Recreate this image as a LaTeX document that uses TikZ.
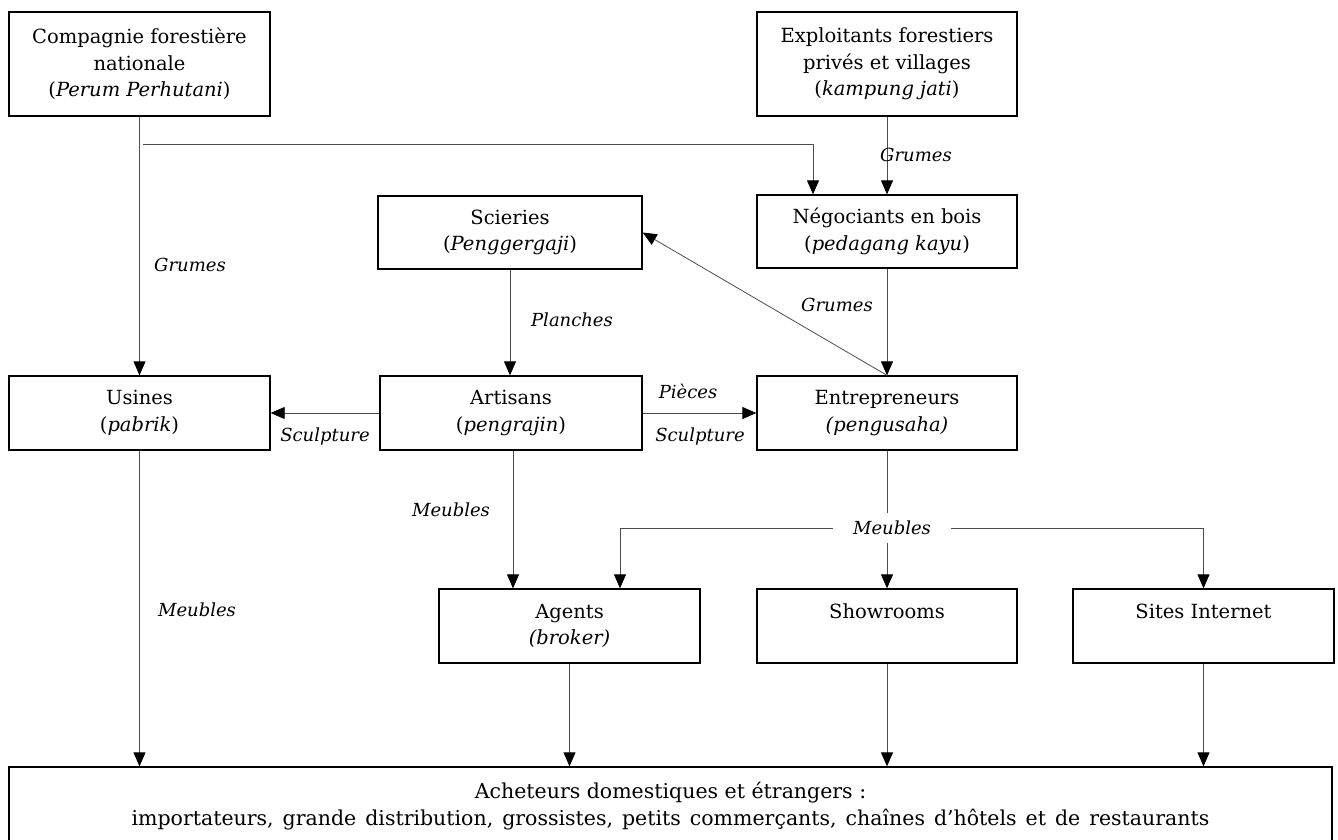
\documentclass[tikz,border=0pt]{standalone}
\usepackage{fontspec}
\setmainfont{DejaVu Serif}
\usetikzlibrary{arrows.meta,calc}
\begin{document}
\begin{tikzpicture}[x=1pt,y=-1pt,
  font=\fontsize{19.5}{26.5}\selectfont,
  box/.style={draw=black, line width=1.3pt, align=center, inner sep=0pt, anchor=center},
  conn/.style={draw=black!70, line width=0.8pt},
  arr/.style={conn, -{Triangle[length=14pt,width=12pt,color=black]}},
  lab/.style={font=\fontsize{18}{20}\selectfont\itshape, inner sep=1pt}
]
\useasboundingbox (0,0) rectangle (1338,840);
% boxes
\node[box, minimum width=261, minimum height=104] (comp) at (139.5,64) {Compagnie forestière\\nationale\\(\textit{Perum Perhutani})};
\node[box, minimum width=260, minimum height=104] (expl) at (887,64) {Exploitants forestiers\\privés et villages\\(\textit{kampung jati})};
\node[box, minimum width=264, minimum height=73] (sci) at (510,232.5) {Scieries\\(\textit{Penggergaji})};
\node[box, minimum width=260, minimum height=73] (neg) at (887,231.5) {Négociants en bois\\(\textit{pedagang kayu})};
\node[box, minimum width=261, minimum height=74] (usi) at (139.5,413) {Usines\\(\textit{pabrik})};
\node[box, minimum width=262, minimum height=74] (art) at (511,413) {Artisans\\(\textit{pengrajin})};
\node[box, minimum width=260, minimum height=74] (ent) at (887,413) {Entrepreneurs\\\textit{(pengusaha)}};
\node[box, minimum width=261, minimum height=74] (agt) at (569.5,626) {Agents\\\textit{(broker)}};
\node[box, minimum width=260, minimum height=74] (show) at (887,626) {Showrooms\\\phantom{(}};
\node[box, minimum width=261, minimum height=74] (site) at (1203.5,626) {Sites Internet\\\phantom{(}};
\node[box, minimum width=1323, minimum height=78, font=\fontsize{20.5}{27}\selectfont] (bot) at (670.5,806) {Acheteurs domestiques et étrangers :\\{\spaceskip=9pt importateurs, grande distribution, grossistes, petits commerçants, chaînes d’hôtels et de restaurants}};
% branch label
\node[lab, inner xsep=20pt, inner ysep=8pt] (mb) at (892,528) {Meubles};
\coordinate (br) at (143,144);
% connectors
\draw[arr] (comp.south) -- (usi.north);
\draw[arr] (br) -| ([xshift=-74]neg.north);
\draw[arr] (expl.south) -- (neg.north);
\draw[arr] (neg.south) -- (ent.north);
\draw[arr] (ent.north) -- (sci.east);
\draw[arr] (sci.south) -- (sci.south |- art.north);
\draw[arr] (art.west) -- (usi.east);
\draw[arr] (art.east) -- (ent.west);
\draw[arr] ([xshift=2]art.south) -- ([xshift=2]art.south |- agt.north);
\draw[conn] (ent.south) -- (ent.south |- mb.north);
\draw[arr] (ent.south |- mb.south) -- (show.north);
\draw[arr] (mb.west) -| ([xshift=50.5]agt.north);
\draw[arr] (mb.east) -| (site.north);
\draw[arr] (usi.south) -- (usi.south |- bot.north);
\draw[arr] (agt.south) -- (agt.south |- bot.north);
\draw[arr] (show.south) -- (show.south |- bot.north);
\draw[arr] (site.south) -- (site.south |- bot.north);
% labels
\node[lab] (l1) at (190,265) {Grumes};
\node[lab] (l2) at (916,155) {Grumes};
\node[lab] (l3) at (837,305) {Grumes};
\node[lab] (l4) at (572,320) {Planches};
\node[lab] (l5) at (688,391) {Pièces};
\node[lab] (l6) at (700,437) {Sculpture};
\node[lab] (l7) at (325,437) {Sculpture};
\node[lab] (l8) at (451,510) {Meubles};
\node[lab] (l9) at (197,610) {Meubles};
\end{tikzpicture}
\end{document}
